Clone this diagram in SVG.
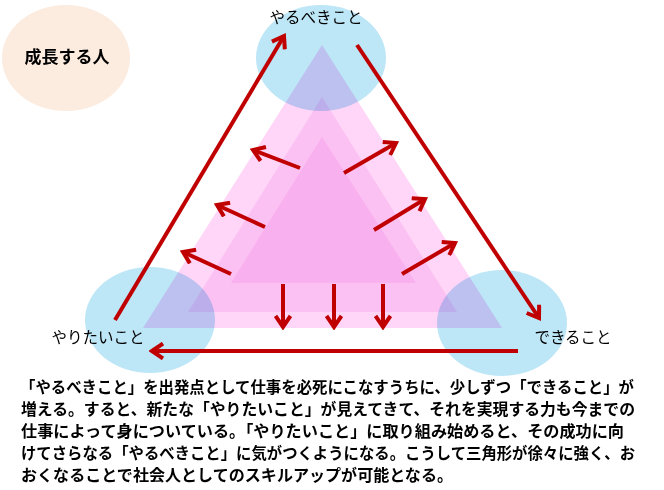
<svg xmlns="http://www.w3.org/2000/svg" width="664" height="490" viewBox="0 0 664 490">
<defs>
<style>
.bub{fill:#bde6f7;mix-blend-mode:multiply}
.lbl{font-family:"Noto Sans CJK JP","Noto Sans",sans-serif;font-size:15.5px;fill:#000;text-anchor:middle}
.para{font-family:"Noto Sans CJK JP","Noto Sans",sans-serif;font-size:16px;font-weight:bold;fill:#000}
.arr{stroke:#c00000;stroke-width:4;fill:none;marker-end:url(#ah)}
</style>
<marker id="ah" markerUnits="userSpaceOnUse" markerWidth="18" markerHeight="18" viewBox="0 0 18 18" refX="15" refY="9" orient="auto">
<path d="M4,1.5 L15,9 L4,16.5" fill="none" stroke="#c00000" stroke-width="4"/>
</marker>
</defs>
<rect width="664" height="490" fill="#fff"/>
<g id="person">
<ellipse cx="66" cy="58" rx="64" ry="53" fill="#fcebdf"/>
<text x="67" y="63" class="lbl" style="font-size:17px;font-weight:bold">成長する人</text>
</g>
<g id="triangles">
<polygon points="322,45 143,328 502,328" fill="#ffd6f7"/>
<polygon points="322,97 188,312 457,312" fill="#fcc1f3"/>
<polygon points="322,137 231,283 416,283" fill="#f9b0ee"/>
</g>
<g id="must">
<ellipse class="bub" cx="321" cy="58" rx="65" ry="53"/>
<text x="316" y="23" class="lbl">やるべきこと</text>
</g>
<g id="want">
<ellipse class="bub" cx="150" cy="320" rx="65" ry="53"/>
<text x="98" y="343" class="lbl">やりたいこと</text>
</g>
<g id="can">
<ellipse class="bub" cx="502" cy="323" rx="65" ry="53"/>
<text x="573" y="343" class="lbl">できること</text>
</g>
<g id="connectors">
<line class="arr" x1="115" y1="320" x2="284" y2="36"/>
<line class="arr" x1="357" y1="45" x2="539" y2="318"/>
<line class="arr" x1="518" y1="351" x2="152" y2="351"/>
<line class="arr" x1="300" y1="168" x2="253" y2="150"/>
<line class="arr" x1="265" y1="227" x2="217" y2="205"/>
<line class="arr" x1="231" y1="274" x2="183" y2="252"/>
<line class="arr" x1="344" y1="173" x2="396" y2="143"/>
<line class="arr" x1="374" y1="230" x2="425" y2="199"/>
<line class="arr" x1="402" y1="274" x2="455" y2="243"/>
<line class="arr" x1="283" y1="284" x2="283" y2="327"/>
<line class="arr" x1="334" y1="284" x2="334" y2="327"/>
<line class="arr" x1="383" y1="284" x2="383" y2="327"/>
</g>
<g id="description">
<text class="para" x="20" y="393" textLength="614" lengthAdjust="spacingAndGlyphs">「やるべきこと」を出発点として仕事を必死にこなすうちに、少しずつ「できること」が</text>
<text class="para" x="21" y="415" textLength="614" lengthAdjust="spacingAndGlyphs">増える。すると、新たな「やりたいこと」が見えてきて、それを実現する力も今までの</text>
<text class="para" x="21" y="437" textLength="603" lengthAdjust="spacingAndGlyphs">仕事によって身についている。「やりたいこと」に取り組み始めると、その成功に向</text>
<text class="para" x="21" y="459" textLength="614" lengthAdjust="spacingAndGlyphs">けてさらなる「やるべきこと」に気がつくようになる。こうして三角形が徐々に強く、お</text>
<text class="para" x="21" y="481" textLength="432" lengthAdjust="spacingAndGlyphs">おくなることで社会人としてのスキルアップが可能となる。</text>
</g>
</svg>
